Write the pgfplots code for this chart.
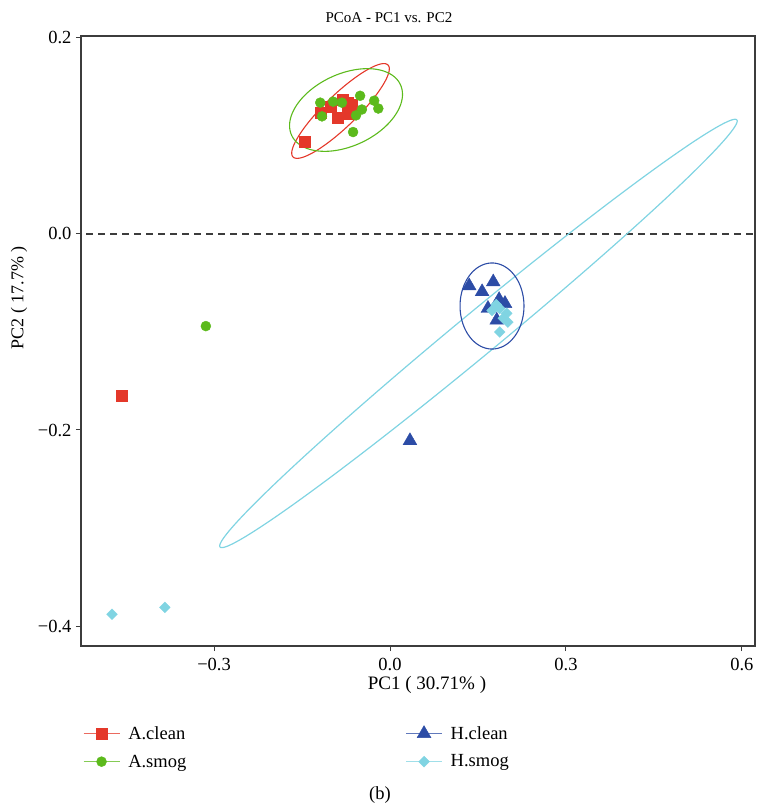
\documentclass[border=0pt]{standalone}
\usepackage{fontspec}
\setmainfont{Liberation Serif}
\usepackage{pgfplots}
\pgfplotsset{compat=1.18}
\definecolor{cred}{RGB}{228,56,42}
\definecolor{cgreen}{RGB}{92,186,28}
\definecolor{cblue}{RGB}{44,76,166}
\definecolor{ccyan}{RGB}{128,212,226}
\definecolor{axgray}{RGB}{60,60,60}
\pgfplotsset{leg/.style={legend image code/.code={\draw[#1!75, line width=1.4pt] (0pt,0pt)--(36pt,0pt); \draw[##1, only marks] plot coordinates {(18pt,0pt)};}}}
\begin{document}
\begin{tikzpicture}
\useasboundingbox (-81pt,-165pt) rectangle (676pt,646pt);
\begin{axis}[
  at={(0pt,0pt)}, anchor=south west, scale only axis,
  width=674pt, height=610pt,
  xmin=-0.5269, xmax=0.6223, ymin=-0.4204, ymax=0.2020,
  axis line style={axgray, line width=1.1pt},
  tick style={axgray, line width=1pt},
  tick align=outside, tick pos=left, major tick length=5pt,
  xtick={-0.3,0,0.3,0.6}, xticklabels={−0.3,0.0,0.3,0.6},
  ytick={-0.4,-0.2,0,0.2}, yticklabels={−0.4,−0.2,0.0,0.2},
  ticklabel style={font=\fontsize{18.5}{20}\selectfont},
  xticklabel style={yshift=-4pt},
  yticklabel style={xshift=-1pt},
  legend columns=2, transpose legend,
  legend style={at={(rel axis cs:-0.002,-0.125)}, anchor=north west, draw=none,
    font=\fontsize{18.5}{20}\selectfont, column sep=6pt, row sep=10pt,
    /tikz/every even column/.append style={column sep=217pt}},
  legend cell align=left,
]
\addplot[draw=axgray, dash pattern=on 7pt off 5pt, line width=1.2pt, forget plot] coordinates {(-0.6,0) (0.7,0)};
\addplot[ccyan, line width=1.2pt, domain=0:360, samples=181, forget plot, no marks]
  ({0.1508+0.4406*cos(x)+0.02284*sin(x)},{-0.1015+0.2179*cos(x)-0.01653*sin(x)});
\addplot[cred, line width=1.1pt, domain=0:360, samples=121, forget plot, no marks]
  ({-0.0844+0.0810*cos(x)+0.0190*sin(x)},{0.1255+0.0469*cos(x)-0.0117*sin(x)});
\addplot[cgreen, line width=1.1pt, domain=0:360, samples=121, forget plot, no marks]
  ({-0.075+0.0927*cos(x)+0.0260*sin(x)},{0.1265+0.0259*cos(x)-0.0333*sin(x)});
\addplot[cblue, line width=1.1pt, domain=0:360, samples=121, forget plot, no marks]
  ({0.1739+0.0545*cos(x)},{-0.0735+0.0439*sin(x)});
\addplot[only marks, mark=square*, mark size=5.5pt, color=cred, mark options={fill=cred, draw=cred}, leg=cred]
  coordinates {(-0.457,-0.165) (-0.145,0.094) (-0.080,0.137) (-0.065,0.132) (-0.102,0.130) (-0.119,0.124) (-0.089,0.119) (-0.073,0.123) (-0.073,0.134)};
\addlegendentry{A.clean}
\addplot[only marks, mark=*, mark size=5pt, color=cgreen, mark options={fill=cgreen, draw=cgreen}, leg=cgreen]
  coordinates {(-0.314,-0.094) (-0.119,0.134) (-0.097,0.135) (-0.082,0.134) (-0.051,0.141) (-0.027,0.136) (-0.020,0.128) (-0.048,0.127) (-0.058,0.121) (-0.116,0.120) (-0.063,0.104)};
\addlegendentry{A.smog}
\addplot[only marks, mark=triangle*, mark size=8pt, color=cblue, mark options={fill=cblue, draw=cblue}, leg=cblue]
  coordinates {(0.034,-0.211) (0.135,-0.053) (0.157,-0.059) (0.176,-0.049) (0.167,-0.076) (0.186,-0.067) (0.196,-0.071) (0.182,-0.088)};
\addlegendentry{H.clean}
\addplot[only marks, mark=square*, mark size=3.8pt, color=ccyan, mark options={fill=ccyan, draw=ccyan, rotate=45}, leg=ccyan]
  coordinates {(-0.474,-0.388) (-0.384,-0.381) (0.174,-0.078) (0.187,-0.076) (0.199,-0.081) (0.193,-0.086) (0.201,-0.090) (0.187,-0.100) (0.181,-0.072)};
\addlegendentry{H.smog}
\end{axis}
\node[font=\fontsize{15}{17}\selectfont] at (308pt,628pt) {PCoA - PC1 vs. PC2};
\node[font=\fontsize{19}{21}\selectfont] at (346pt,-39pt) {PC1 ( 30.71\% )};
\node[font=\fontsize{18}{20}\selectfont, rotate=90] at (-62pt,348pt) {PC2 ( 17.7\% )};
\node[font=\fontsize{18.5}{20}\selectfont] at (299pt,-149pt) {(b)};
\end{tikzpicture}
\end{document}
